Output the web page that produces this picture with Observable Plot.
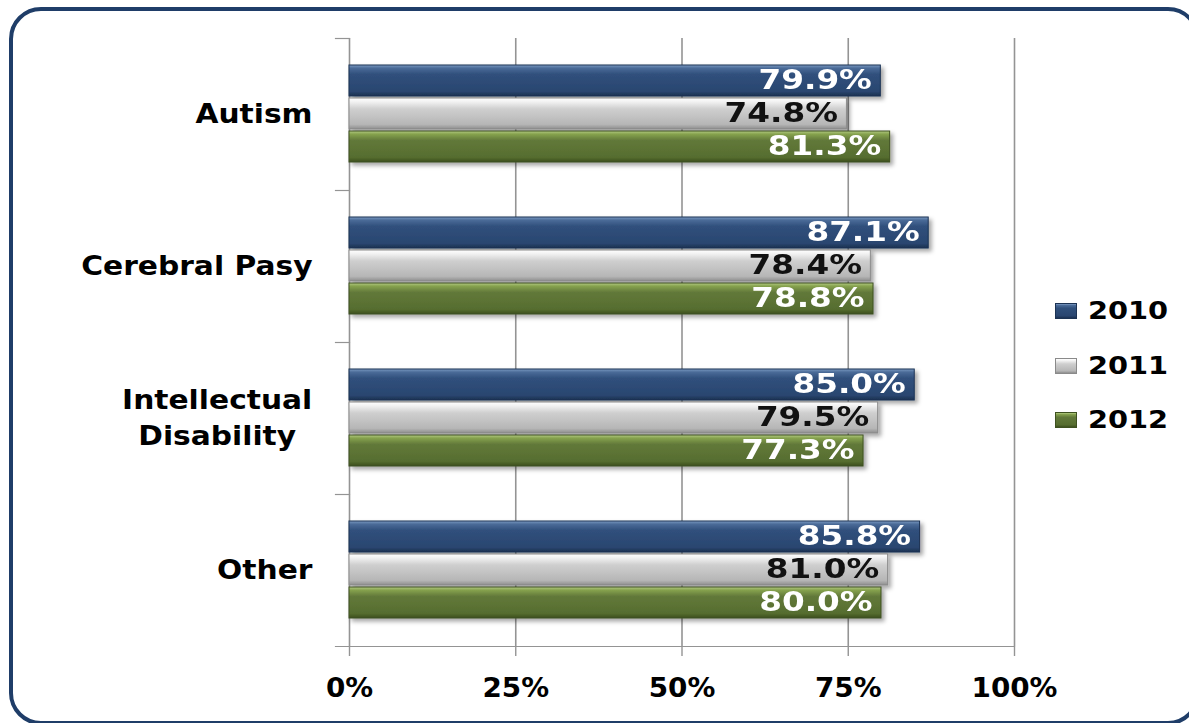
<!DOCTYPE html>
<html>
<head>
<meta charset="utf-8">
<script src="https://cdn.jsdelivr.net/npm/d3@7"></script>
<script src="https://cdn.jsdelivr.net/npm/@observablehq/plot@0.6"></script>
<style>
  html, body { margin: 0; padding: 0; background: #fff; overflow: hidden; width: 1189px; height: 723px; }
  #frame { position: absolute; left: 9px; top: 7px; width: 1183px; height: 710px; border: 4px solid #1f3d68; border-radius: 32px; box-sizing: content-box; }
  #chart { position: absolute; left: 0; top: 0; }
  #legend { position: absolute; left: 1055px; top: 284px; font-family: "DejaVu Sans", sans-serif; font-weight: bold; font-size: 24px; color: #000; }
  .item { display: flex; align-items: center; height: 54.5px; }
  .sw { width: 22px; height: 16px; box-sizing: border-box; margin-right: 11px; }
  .lab { display: inline-block; transform: scaleX(1.2); transform-origin: 0 50%; }
</style>
</head>
<body>
<div id="frame"></div>
<div id="chart"></div>
<div id="legend"></div>
<script>
// ---- data ----
const categories = ["Autism", "Cerebral Pasy", "Intellectual\nDisability", "Other"];
const years = ["2010", "2011", "2012"];
const v2010 = [79.9, 87.1, 85.0, 85.8];
const v2011 = [74.8, 78.4, 79.5, 81.0];
const v2012 = [81.3, 78.8, 77.3, 80.0];
const xTicks = [0, 25, 50, 75, 100];

// ---- styles ----
const seriesValues = [v2010, v2011, v2012];
const labelColors = { "2010": "#ffffff", "2011": "#111111", "2012": "#ffffff" };
const edgeColors = { "2010": "#1c3354", "2011": "#8a8a8a", "2012": "#3e5120" };
const gradStops = {
  "2010": [["0%", "#7e9cc4"], ["10%", "#4a6b98"], ["30%", "#30507c"], ["85%", "#2a4670"], ["100%", "#1b3050"]],
  "2011": [["0%", "#ffffff"], ["12%", "#f2f2f2"], ["35%", "#cfcfcf"], ["85%", "#b6b6b6"], ["100%", "#8e8e8e"]],
  "2012": [["0%", "#b4cc84"], ["10%", "#86a24e"], ["30%", "#62793a"], ["85%", "#566d2f"], ["100%", "#3c4f1e"]]
};
const gridColor = "#949494";

const data = [];
categories.forEach((c, i) => years.forEach((y, j) => data.push({ category: c, year: y, value: seriesValues[j][i] })));

const marks = [
  Plot.gridX({ ticks: xTicks, stroke: gridColor, strokeOpacity: 1, strokeWidth: 1.6 }),
  Plot.frame({ anchor: "top", insetLeft: -14, stroke: gridColor, strokeWidth: 1.2, strokeDasharray: "14 4000" }),
  Plot.frame({ anchor: "bottom", facetAnchor: "bottom", insetLeft: -14, stroke: gridColor, strokeWidth: 1.2 }),
  Plot.axisX({ ticks: xTicks, tickFormat: d => d + "%", tickSize: 10, tickPadding: 21, fontSize: 27, fontWeight: "bold", stroke: gridColor, strokeWidth: 1.4, fill: "#000", label: null }),
  Plot.axisFy({ anchor: "left", tickSize: 0, tickPadding: 37, dy: -3, fontSize: 27, fontWeight: "bold", lineHeight: 1.35, fill: "#000", label: null })
];
years.forEach(yr => {
  marks.push(Plot.barX(data, { filter: d => d.year === yr, y: "year", fy: "category", x: "value", fill: `url(#g${yr})`, stroke: edgeColors[yr], strokeWidth: 1 }));
});
years.forEach(yr => {
  marks.push(Plot.text(data, { filter: d => d.year === yr, y: "year", fy: "category", x: "value", text: d => d.value.toFixed(1) + "%", textAnchor: "end", dx: -9, dy: -1, fill: labelColors[yr], fontSize: 27, fontWeight: "bold" }));
});

const plot = Plot.plot({
  width: 1189,
  height: 723,
  marginLeft: 349,
  marginRight: 175,
  marginTop: 37,
  marginBottom: 77,
  style: { background: "transparent", fontFamily: "DejaVu Sans, sans-serif", overflow: "visible" },
  x: { domain: [0, 100] },
  y: { domain: years, paddingInner: 0.06, paddingOuter: 0.82, axis: null },
  fy: { domain: categories, padding: 0, axis: null },
  marks
});

document.getElementById("chart").appendChild(plot);

// gradients + shadow
const svg = d3.select(plot);
const defs = svg.insert("defs", ":first-child");
years.forEach(yr => {
  const g = defs.append("linearGradient").attr("id", "g" + yr).attr("x1", 0).attr("y1", 0).attr("x2", 0).attr("y2", 1);
  gradStops[yr].forEach(([o, c]) => g.append("stop").attr("offset", o).attr("stop-color", c));
});
const f = defs.append("filter").attr("id", "shadow").attr("x", "-5%").attr("y", "-30%").attr("width", "115%").attr("height", "180%");
f.append("feDropShadow").attr("dx", 3).attr("dy", 3).attr("stdDeviation", 2).attr("flood-color", "#000").attr("flood-opacity", 0.35);
svg.selectAll('g[aria-label="bar"]').attr("filter", "url(#shadow)");

// horizontally stretched glyphs, as in the reference
function stretch(sel, k) {
  sel.each(function () {
    const spans = this.querySelectorAll("tspan");
    const targets = spans.length ? Array.from(spans) : [this];
    targets.forEach(t => {
      const len = t.getComputedTextLength();
      t.setAttribute("textLength", (len * k).toFixed(1));
      t.setAttribute("lengthAdjust", "spacingAndGlyphs");
    });
  });
}
stretch(svg.selectAll('g[aria-label="text"] text'), 1.21);
stretch(svg.selectAll('g[aria-label="fy-axis tick label"] text'), 1.1);
stretch(svg.selectAll('g[aria-label="x-axis tick label"] text'), 1.03);

// center multi-line category labels within their block
svg.selectAll('g[aria-label="fy-axis tick label"] text').each(function () {
  const spans = this.querySelectorAll("tspan");
  if (spans.length > 1) {
    const w = this.getBBox().width;
    this.setAttribute("text-anchor", "middle");
    spans.forEach(s => s.setAttribute("x", -w / 2));
  }
});

// legend
const legend = d3.select("#legend");
years.forEach(yr => {
  const it = legend.append("div").attr("class", "item");
  it.append("div").attr("class", "sw")
    .style("background", `linear-gradient(to bottom, ${gradStops[yr].map(([o, c]) => c + " " + o).join(", ")})`)
    .style("border", `1px solid ${edgeColors[yr]}`);
  it.append("span").attr("class", "lab").text(yr);
});
</script>
</body>
</html>
